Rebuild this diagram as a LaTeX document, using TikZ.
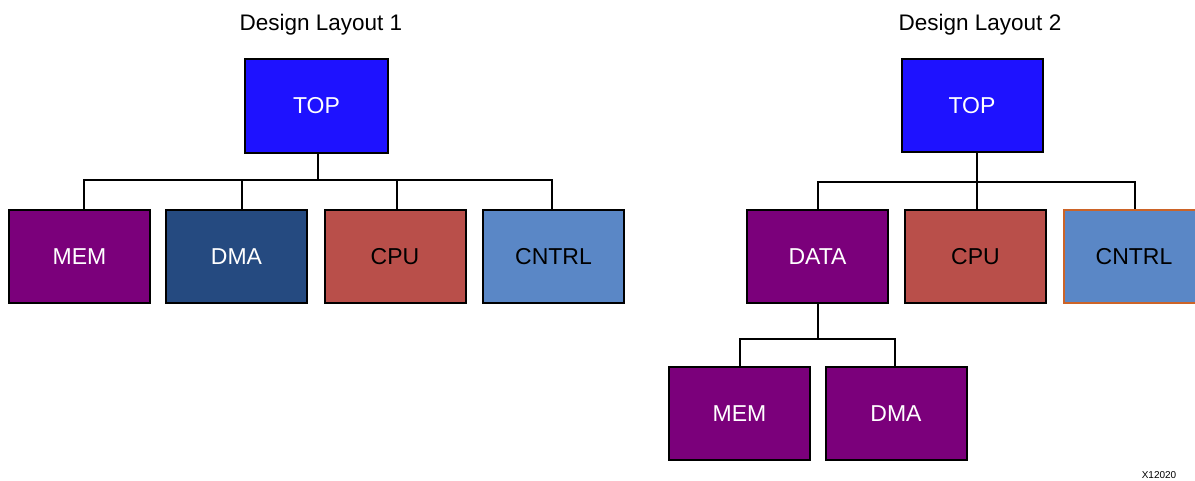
\documentclass[tikz,border=0pt]{standalone}
\usepackage{fontspec}
\setmainfont{Liberation Sans}
\definecolor{topblue}{RGB}{30,18,255}
\definecolor{purp}{RGB}{123,0,123}
\definecolor{dmablue}{RGB}{37,74,128}
\definecolor{cpured}{RGB}{185,79,74}
\definecolor{cntrlblue}{RGB}{90,135,198}
\definecolor{orangeb}{RGB}{204,100,40}
\begin{document}
\begin{tikzpicture}[x=1pt,y=-1pt,
  box/.style={draw=black,line width=2pt,minimum width=141pt,minimum height=93pt,inner sep=0pt,font=\fontsize{23}{27}\selectfont},
  wt/.style={text=white},
  bk/.style={text=black},
  conn/.style={draw=black,line width=2pt},
  ttl/.style={font=\fontsize{22.5}{27}\selectfont,inner sep=0pt}]
\useasboundingbox (0,0) rectangle (1195,481);
\fill[white] (0,0) rectangle (1195,481);
% Layout 1
\node[ttl] (t1) at (321,25) {Design Layout 1};
\node[box,wt,fill=topblue,minimum width=143pt,minimum height=94pt] (top1) at (316.5,106) {TOP};
\node[box,wt,fill=purp] (mem1) at (79.5,256.5) {MEM};
\node[box,wt,fill=dmablue] (dma1) at (236.5,256.5) {DMA};
\node[box,bk,fill=cpured] (cpu1) at (395,256.5) {CPU};
\node[box,bk,fill=cntrlblue] (cntrl1) at (553.5,256.5) {CNTRL};
\coordinate (b1) at (318,180);
\draw[conn] (top1.south -| b1) -- (b1);
\draw[conn] (mem1.north -| 84,0) -- (84,180) -- (552,180) -- (cntrl1.north -| 552,0);
\draw[conn] (dma1.north -| 242,0) -- (242,180);
\draw[conn] (cpu1.north -| 397,0) -- (397,180);
% Layout 2
\node[ttl] (t2) at (980,25) {Design Layout 2};
\node[box,wt,fill=topblue] (top2) at (972,106) {TOP};
\node[box,wt,fill=purp] (data2) at (817.5,256.5) {DATA};
\node[box,bk,fill=cpured] (cpu2) at (975.5,256.5) {CPU};
\node[box,bk,fill=cntrlblue,draw=orangeb] (cntrl2) at (1134,256.5) {CNTRL};
\node[box,wt,fill=purp] (mem2) at (739.5,413.5) {MEM};
\node[box,wt,fill=purp] (dma2) at (896,413.5) {DMA};
\coordinate (b2) at (977,182);
\draw[conn] (top2.south -| b2) -- (b2);
\draw[conn] (data2.north -| 818,0) -- (818,182) -- (1135,182) -- (cntrl2.north -| 1135,0);
\draw[conn] (cpu2.north -| 977,0) -- (977,182);
\coordinate (b3) at (818,339);
\draw[conn] (data2.south -| b3) -- (b3);
\draw[conn] (mem2.north -| 740,0) -- (740,339) -- (895,339) -- (dma2.north -| 895,0);
\node[font=\fontsize{10}{11}\selectfont,inner sep=0pt] (id) at (1159,475) {X12020};
\end{tikzpicture}
\end{document}
